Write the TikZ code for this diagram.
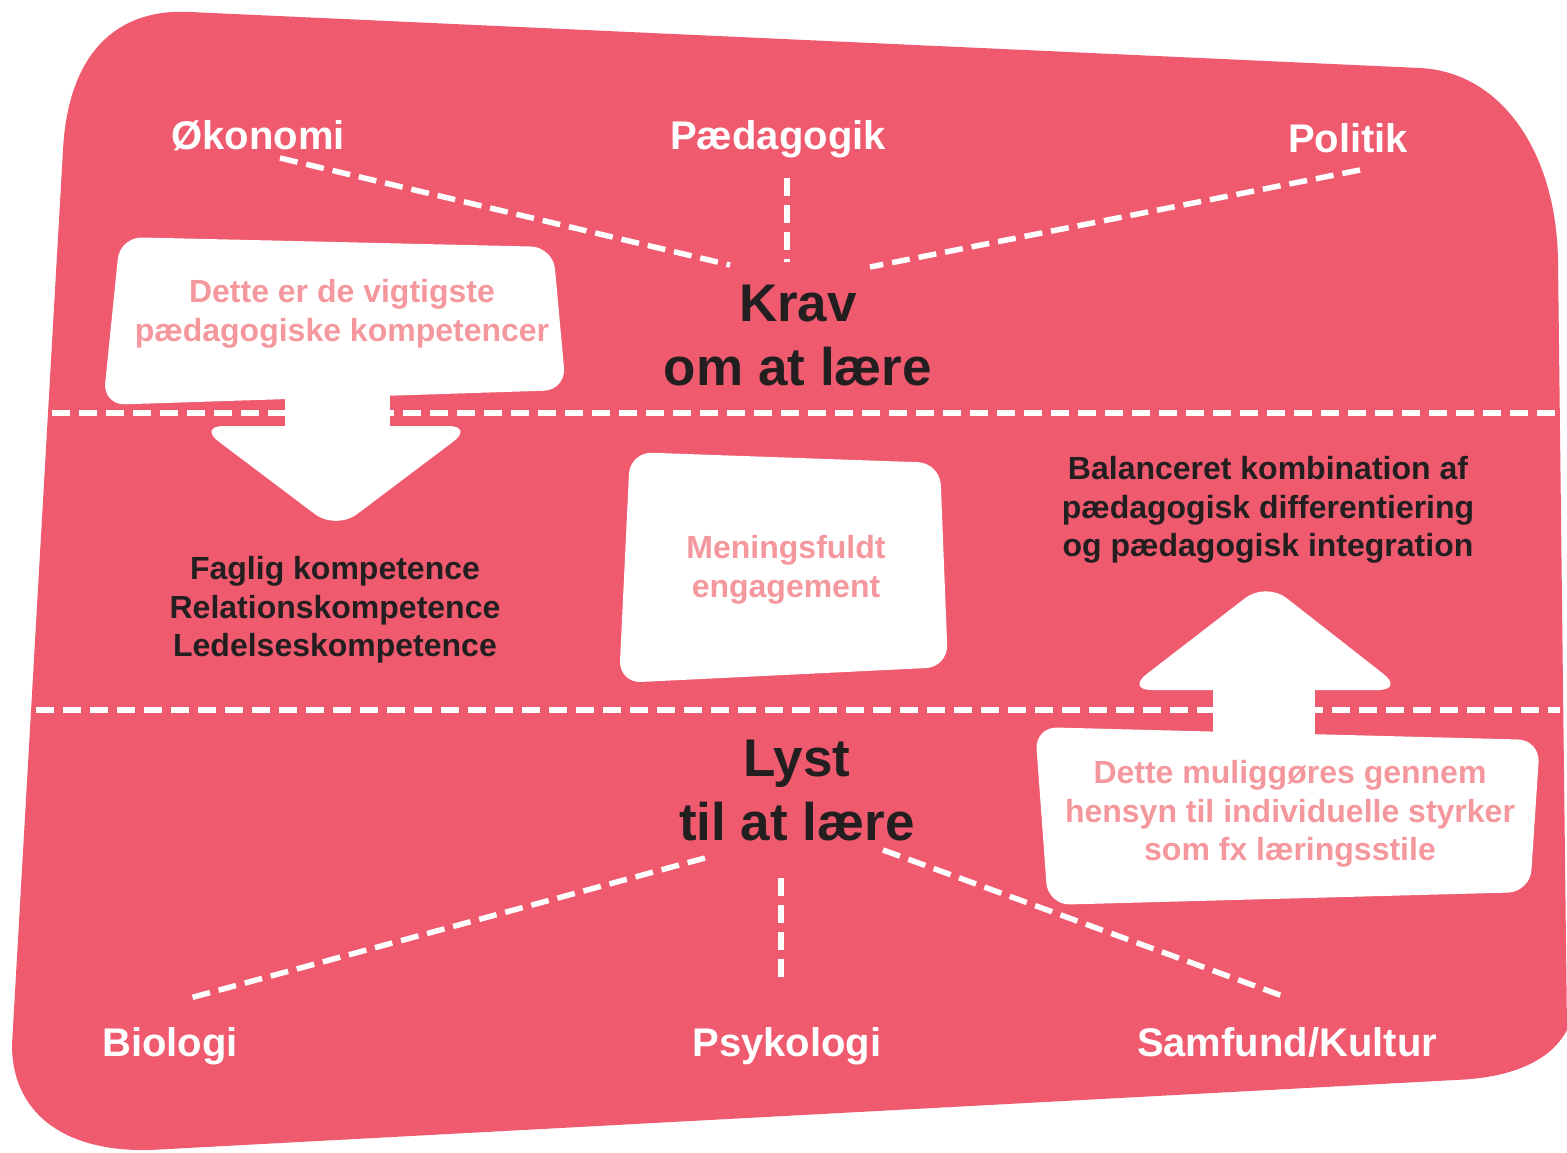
\documentclass[tikz,border=0pt]{standalone}
\usepackage{fontspec}
\setmainfont{Liberation Sans}
\usepackage{xcolor}
\definecolor{lyserod}{RGB}{239,90,111}
\definecolor{blegrod}{RGB}{245,152,158}
\definecolor{moerk}{RGB}{35,31,32}

\begin{document}
\begin{tikzpicture}[x=1pt,y=-1pt,
	emne/.style={text=white,font=\fontsize{40}{46}\selectfont\bfseries,inner sep=0pt,anchor=base},
	titel/.style={text=moerk,font=\fontsize{53}{64}\selectfont\bfseries,align=center,inner sep=0pt},
	tekst/.style={text=moerk,font=\fontsize{32}{38.5}\selectfont\bfseries,align=center,inner sep=0pt},
	bobletekst/.style={tekst,text=blegrod},
	stiplet/.style={white,line width=5.5pt,dash pattern=on 18pt off 9pt},
	boble/.style={fill=white,rounded corners=22pt}]
	\useasboundingbox (0,0) rectangle (1567,1152);
	% baggrund
	\fill [lyserod] (63,150) .. controls (68,55) and (115,8) .. (190,12) -- (1420,68)
		.. controls (1500,72) and (1556,150) .. (1558,260) -- (1567,1030)
		.. controls (1550,1062) and (1510,1078) .. (1455,1080) -- (150,1150)
		.. controls (60,1152) and (12,1110) .. (12,1045) -- cycle;
	% skillelinjer
	\draw [stiplet] (52,413) -- (1558,413);
	\draw [stiplet] (36,710) -- (1560,710);
	% bobler og pile
	\fill [boble] (120,237) -- (553,247) -- (566,390) -- (103,405) -- cycle;
	\fill [white] (285,380) rectangle (390,432);
	\fill [boble,rounded corners=26pt] (198,426) -- (474,426) -- (336,530) -- cycle;
	\fill [boble] (630,452) -- (940,463) -- (948,667) -- (619,683) -- cycle;
	\fill [white] (1213,680) rectangle (1315,738);
	\fill [boble,rounded corners=26pt] (1126,690) -- (1266,582) -- (1404,690) -- cycle;
	\fill [boble] (1035,727) -- (1540,740) -- (1530,892) -- (1048,905) -- cycle;
	% krav
	\node [emne] (okonomi) at (258,149) {Økonomi};
	\node [emne] (paedagogik) at (778,149) {Pædagogik};
	\node [emne] (politik) at (1348,152) {Politik};
	\node [titel] (krav) at (798,336) {Krav\\om at lære};
	\coordinate (okoA) at (280,158);
	\coordinate (okoB) at (730,265);
	\coordinate (paedA) at (787,178);
	\coordinate (paedB) at (787,262);
	\coordinate (polA) at (1360,170);
	\coordinate (polB) at (870,267);
	\draw [stiplet] (okoA) -- (okoB);
	\draw [stiplet] (paedA) -- (paedB);
	\draw [stiplet] (polA) -- (polB);
	% midten
	\node [bobletekst] (vigtigste) at (342,314) {Dette er de vigtigste\\pædagogiske kompetencer};
	\node [tekst] (kompetencer) at (335,610) {Faglig kompetence\\Relationskompetence\\Ledelseskompetence};
	\node [bobletekst] (engagement) at (786,570) {Meningsfuldt\\engagement};
	\node [tekst] (balance) at (1268,510) {Balanceret kombination af\\pædagogisk differentiering\\og pædagogisk integration};
	\node [bobletekst] (styrker) at (1290,814) {Dette muliggøres gennem\\hensyn til individuelle styrker\\som fx læringsstile};
	% lyst
	\node [titel] (lyst) at (797,791) {Lyst\\til at lære};
	\node [emne] (biologi) at (170,1056) {Biologi};
	\node [emne] (psykologi) at (787,1056) {Psykologi};
	\node [emne] (samfund) at (1287,1056) {Samfund/Kultur};
	\coordinate (bioA) at (705,858);
	\coordinate (bioB) at (190,998);
	\coordinate (psyA) at (781,878);
	\coordinate (psyB) at (781,982);
	\coordinate (samA) at (883,850);
	\coordinate (samB) at (1288,998);
	\draw [stiplet] (bioA) -- (bioB);
	\draw [stiplet] (psyA) -- (psyB);
	\draw [stiplet] (samA) -- (samB);
\end{tikzpicture}
\end{document}
